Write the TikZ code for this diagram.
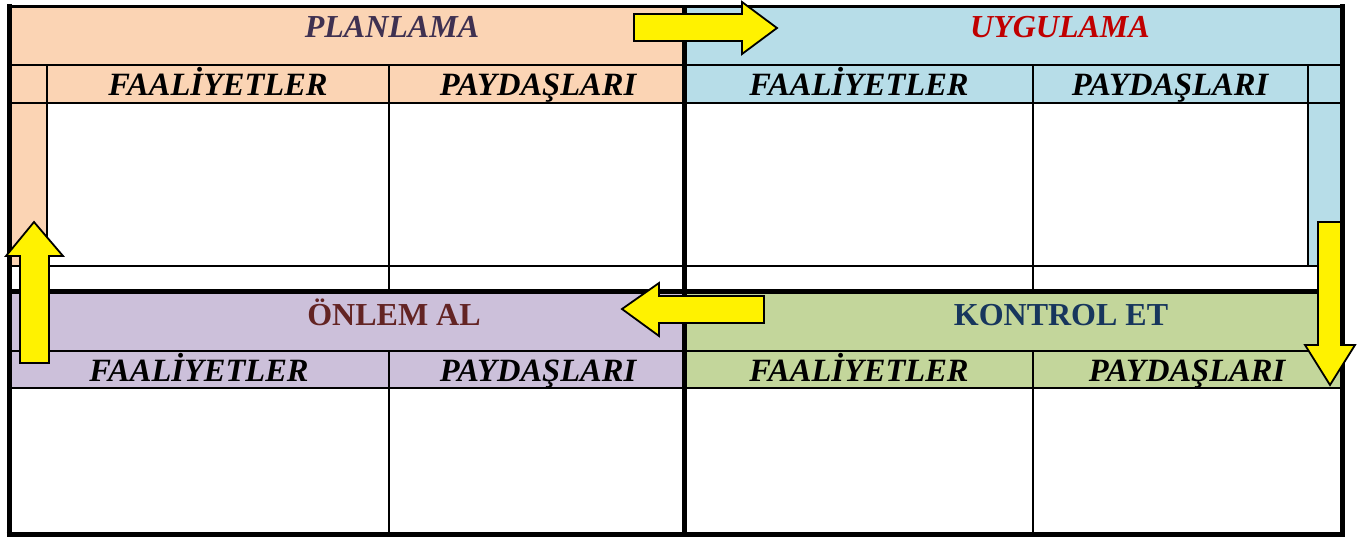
\documentclass[tikz,border=0pt]{standalone}
\usepackage{fontspec}
\setmainfont{Liberation Serif}
\definecolor{cOrange}{HTML}{FBD4B4}
\definecolor{cBlue}{HTML}{B7DDE8}
\definecolor{cPurple}{HTML}{CCC0DA}
\definecolor{cGreen}{HTML}{C3D69B}
\definecolor{tPlan}{HTML}{3F3151}
\definecolor{tUyg}{HTML}{C00000}
\definecolor{tOnl}{HTML}{632423}
\definecolor{tKon}{HTML}{17365D}
\tikzset{
  thin line/.style={line width=2pt,black},
  thick line/.style={line width=5pt,black},
  yarrow/.style={fill=yellow,draw=black,line width=1.8pt,line join=miter},
  head/.style={font=\fontsize{32}{35}\selectfont\bfseries\itshape,inner sep=0pt,anchor=base},
  headup/.style={font=\fontsize{32}{35}\selectfont\bfseries,inner sep=0pt,anchor=base},
  sub/.style={font=\fontsize{32.5}{35}\selectfont\bfseries\itshape,inner sep=0pt,anchor=base},
}
\begin{document}
\begin{tikzpicture}[x=1pt,y=-1pt]
\useasboundingbox (0,0) rectangle (1362,539);
% fills
\fill[white] (9,6) rectangle (1342,534);
\fill[cOrange] (9,6) rectangle (685,103);
\fill[cOrange] (9,103) rectangle (47,265);
\fill[cBlue] (685,6) rectangle (1342,103);
\fill[cBlue] (1307,103) rectangle (1342,265);
\fill[cPurple] (9,291) rectangle (685,388);
\fill[cGreen] (685,291) rectangle (1342,388);
% thin lines
\draw[thin line] (9,65) -- (1342,65);
\draw[thin line] (9,103) -- (1342,103);
\draw[thin line] (9,265.5) -- (1342,265.5);
\draw[thin line] (47,65) -- (47,265.5);
\draw[thin line] (389,65) -- (389,291);
\draw[thin line] (1033,65) -- (1033,291);
\draw[thin line] (1308,65) -- (1308,265.5);
\draw[thin line] (9,351) -- (1342,351);
\draw[thin line] (9,388) -- (1342,388);
\draw[thin line] (389,351) -- (389,534);
\draw[thin line] (1033,351) -- (1033,534);
% thick lines
\draw[thick line] (684,6) -- (684,534);
\draw[thick line] (9,291) -- (1342,291);
\draw[line width=3.5pt] (9,6.5) -- (1342,6.5);
\draw[thick line] (9,4) -- (9,537);
\draw[thick line] (1342,4) -- (1342,537);
\draw[thick line] (6.5,534.5) -- (1344.5,534.5);
% texts
\node[head,text=tPlan] (plan) at (392,37) {PLANLAMA};
\node[head,text=tUyg] (uyg) at (1060,37) {UYGULAMA};
\node[headup,text=tOnl] (onl) at (394,325) {ÖNLEM AL};
\node[headup,text=tKon] (kon) at (1061,325) {KONTROL ET};
\node[sub] (f1) at (218,95) {FAALİYETLER};
\node[sub] (p1) at (538,95) {PAYDAŞLARI};
\node[sub] (f2) at (859,95) {FAALİYETLER};
\node[sub] (p2) at (1170,95) {PAYDAŞLARI};
\node[sub] (f3) at (199,381) {FAALİYETLER};
\node[sub] (p3) at (538,381) {PAYDAŞLARI};
\node[sub] (f4) at (859,381) {FAALİYETLER};
\node[sub] (p4) at (1187,381) {PAYDAŞLARI};
% arrows
\draw[yarrow] (634,14) -- (742,14) -- (742,2) -- (777,28) -- (742,54) -- (742,41) -- (634,41) -- cycle;
\draw[yarrow] (1318,222) -- (1341,222) -- (1341,345) -- (1355,345) -- (1330,385) -- (1305,345) -- (1318,345) -- cycle;
\draw[yarrow] (764,296) -- (659,296) -- (659,283) -- (622,309) -- (659,336) -- (659,323) -- (764,323) -- cycle;
\draw[yarrow] (20,363) -- (20,256) -- (6,256) -- (34,222) -- (63,256) -- (49,256) -- (49,363) -- cycle;
\end{tikzpicture}
\end{document}
